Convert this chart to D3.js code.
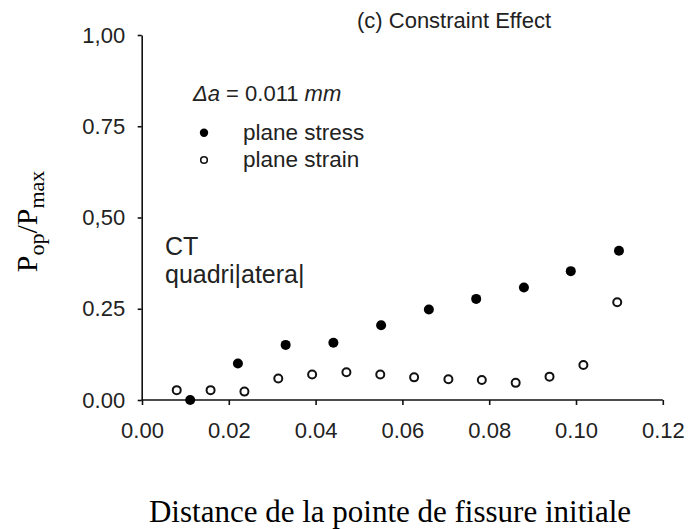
<!DOCTYPE html>
<html>
<head>
<meta charset="utf-8">
<script src="https://cdn.jsdelivr.net/npm/d3@7/dist/d3.min.js"></script>
<style>
  html, body { margin: 0; padding: 0; background: #fff; }
  svg { display: block; }
</style>
</head>
<body>
<script>
// ---- data ----
const stressX = [0.0111, 0.0221, 0.0331, 0.0441, 0.0551, 0.0661, 0.0770, 0.0880, 0.0988, 0.1099];
const stressY = [0.000, 0.100, 0.151, 0.157, 0.205, 0.248, 0.277, 0.308, 0.353, 0.409];
const strainX = [0.0080, 0.0158, 0.0236, 0.0314, 0.0392, 0.0471, 0.0549, 0.0627, 0.0706, 0.0783, 0.0861, 0.0939, 0.1017, 0.1095];
const strainY = [0.027, 0.027, 0.023, 0.059, 0.070, 0.076, 0.070, 0.062, 0.057, 0.055, 0.047, 0.064, 0.096, 0.268];
const xTicks = [0, 0.02, 0.04, 0.06, 0.08, 0.10, 0.12];
const xTickLabels = ["0.00", "0.02", "0.04", "0.06", "0.08", "0.10", "0.12"];
const yTicks = [0, 0.25, 0.5, 0.75, 1.0];
const yTickLabels = ["0.00", "0.25", "0,50", "0.75", "1,00"];
const seriesNames = ["plane stress", "plane strain"];
const titleText = "(c) Constraint Effect";
const annotText = ["CT", "quadri|atera|"];
const xTitle = "Distance de la pointe de fissure initiale";

// ---- layout ----
const W = 690, H = 529;
const sans = "'Liberation Sans', Arial, Helvetica, sans-serif";
const serif = "'Liberation Serif', 'Times New Roman', serif";

const svg = d3.select("body").append("svg").attr("width", W).attr("height", H);

const x = d3.scaleLinear().domain([0, 0.12]).range([142, 662.8]);
const y = d3.scaleLinear().domain([0, 1]).range([400, 35]);

// axes
const xAxis = d3.axisBottom(x).tickValues(xTicks)
  .tickFormat((d, i) => xTickLabels[i]).tickSize(5).tickSizeOuter(0).tickPadding(17);
const yAxis = d3.axisLeft(y).tickValues(yTicks)
  .tickFormat((d, i) => yTickLabels[i]).tickSize(4).tickSizeOuter(0).tickPadding(12.5);

const gx = svg.append("g").attr("transform", "translate(0,400)").call(xAxis);
const gy = svg.append("g").attr("transform", "translate(141.7,0)").call(yAxis);
[gx, gy].forEach(g => {
  g.select(".domain").attr("stroke", "#111").attr("stroke-width", 1.6);
  g.selectAll(".tick line").attr("stroke", "#111").attr("stroke-width", 1.6);
  g.selectAll(".tick text").attr("fill", "#222").style("font-family", sans).style("font-size", "22px");
});
gx.select(".domain").attr("d", `M${x(0) - 0.5},0H${x(0.12)}`);

// points
svg.append("g").selectAll("circle").data(strainX).join("circle")
  .attr("cx", (d) => x(d)).attr("cy", (d, i) => y(strainY[i]))
  .attr("r", 4).attr("fill", "#fff").attr("stroke", "#111").attr("stroke-width", 2);
svg.append("g").selectAll("circle").data(stressX).join("circle")
  .attr("cx", (d) => x(d)).attr("cy", (d, i) => y(stressY[i]))
  .attr("r", 5).attr("fill", "#000");

// title
svg.append("text").attr("x", 357).attr("y", 28).attr("fill", "#222")
  .style("font-family", sans).style("font-size", "22px").text(titleText);

// delta a text
const da = svg.append("text").attr("x", 193).attr("y", 101).attr("fill", "#222")
  .style("font-family", sans).style("font-size", "22px");
da.append("tspan").style("font-style", "italic").text("\u0394a");
da.append("tspan").text(" = 0.011 ");
da.append("tspan").style("font-style", "italic").text("mm");

// legend
svg.append("circle").attr("cx", 204).attr("cy", 132.7).attr("r", 4.2).attr("fill", "#000");
svg.append("circle").attr("cx", 204).attr("cy", 160).attr("r", 3.3)
  .attr("fill", "#fff").attr("stroke", "#111").attr("stroke-width", 1.6);
svg.append("text").attr("x", 243).attr("y", 139.5).attr("fill", "#222")
  .style("font-family", sans).style("font-size", "22.5px").text(seriesNames[0]);
svg.append("text").attr("x", 243).attr("y", 167).attr("fill", "#222")
  .style("font-family", sans).style("font-size", "22.5px").text(seriesNames[1]);

// CT annotation
svg.append("text").attr("x", 165).attr("y", 255).attr("fill", "#222")
  .style("font-family", sans).style("font-size", "25px").text(annotText[0]);
svg.append("text").attr("x", 165).attr("y", 282.7).attr("fill", "#222")
  .style("font-family", sans).style("font-size", "25px").text(annotText[1]);

// x title
svg.append("text").attr("x", 390).attr("y", 521.7).attr("text-anchor", "middle").attr("fill", "#000")
  .style("font-family", serif).style("font-size", "31px").text(xTitle);

// y title
const yt = svg.append("text").attr("transform", "translate(36.7,221.5) rotate(-90)")
  .attr("text-anchor", "middle").attr("fill", "#000")
  .style("font-family", serif).style("font-size", "30px");
yt.append("tspan").text("P");
yt.append("tspan").attr("dy", 7).style("font-size", "22px").text("op");
yt.append("tspan").attr("dy", -7).text("/P");
yt.append("tspan").attr("dy", 7).style("font-size", "22px").text("max");
</script>
</body>
</html>
